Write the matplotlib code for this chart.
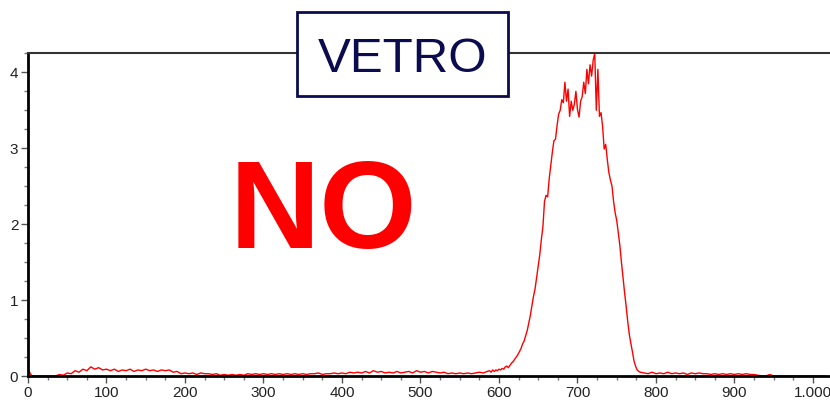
import numpy as np
import matplotlib
matplotlib.use("Agg")
import matplotlib.pyplot as plt
from matplotlib.patches import Rectangle
from matplotlib.ticker import MultipleLocator, FuncFormatter

plt.rcParams['font.family'] = ['Liberation Sans', 'DejaVu Sans']

# Spectrum intensity, sampled on three segments
left_step = 5
left_vals = [
    0.08, 0.0, 0.0, 0.0, 0.0, 0.0, 0.0, 0.0, 0.02, 0.01,
    0.04, 0.03, 0.07, 0.05, 0.09, 0.07, 0.12, 0.09, 0.11, 0.08,
    0.09, 0.07, 0.09, 0.06, 0.08, 0.07, 0.09, 0.06, 0.08, 0.07,
    0.09, 0.07, 0.08, 0.06, 0.08, 0.07, 0.08, 0.05, 0.06, 0.03,
    0.04, 0.03, 0.04, 0.02, 0.04, 0.03, 0.03, 0.02, 0.03, 0.01,
    0.02, 0.01, 0.02, 0.01, 0.02, 0.01, 0.03, 0.02, 0.03, 0.02,
    0.03, 0.02, 0.03, 0.02, 0.03, 0.02, 0.03, 0.02, 0.03, 0.02,
    0.03, 0.02, 0.03, 0.03, 0.04, 0.02, 0.03, 0.03, 0.04, 0.03,
    0.04, 0.03, 0.05, 0.04, 0.05, 0.04, 0.06, 0.04, 0.07, 0.05,
    0.06, 0.04, 0.05, 0.04, 0.06, 0.04, 0.05, 0.06, 0.04, 0.07,
    0.05, 0.06, 0.04, 0.06, 0.05, 0.04, 0.05, 0.03, 0.04, 0.03,
    0.04, 0.03, 0.04, 0.03, 0.04, 0.05, 0.04, 0.06,
]

peak_start = 588
peak_step = 2
peak_vals = [
    0.07, 0.05, 0.08, 0.06, 0.08, 0.07, 0.09, 0.08, 0.10, 0.09,
    0.12, 0.13, 0.11, 0.14, 0.17, 0.19, 0.22, 0.25, 0.28, 0.32,
    0.36, 0.42, 0.46, 0.53, 0.60, 0.70, 0.80, 0.93, 1.05, 1.15,
    1.30, 1.45, 1.60, 1.80, 1.97, 2.30, 2.38, 2.36, 2.60, 2.78,
    2.95, 3.10, 3.12, 3.30, 3.45, 3.50, 3.64, 3.60, 3.87, 3.62,
    3.78, 3.42, 3.62, 3.50, 3.58, 3.75, 3.51, 3.41, 3.62, 3.68,
    3.87, 3.72, 4.04, 3.85, 4.10, 3.95, 4.16, 4.25, 3.50, 4.04,
    3.42, 3.47, 3.29, 2.99, 3.05, 2.85, 2.68, 2.58, 2.50, 2.30,
    2.15, 2.05, 1.89, 1.72, 1.50, 1.30, 1.10, 0.92, 0.72, 0.55,
    0.43, 0.32, 0.20, 0.13, 0.08, 0.06, 0.05,
]

right_start = 785
right_step = 5
right_vals = [
    0.04, 0.03, 0.05, 0.03, 0.04, 0.03, 0.05, 0.03, 0.04, 0.03,
    0.04, 0.02, 0.04, 0.03, 0.04, 0.03, 0.03, 0.02, 0.03, 0.02,
    0.03, 0.02, 0.03, 0.02, 0.03, 0.02, 0.03, 0.02, 0.02, 0.01,
    0.0, 0.0, 0.02, 0.0, 0.0, 0.0, 0.0, 0.0, 0.0, 0.0,
    0.0, 0.0, 0.0, 0.0, 0.0, 0.0, 0.0,
]

x_left = left_step * np.arange(len(left_vals))
x_peak = peak_start + peak_step * np.arange(len(peak_vals))
x_right = right_start + right_step * np.arange(len(right_vals))

x = np.concatenate([x_left, x_peak, x_right])
y = np.concatenate([left_vals, peak_vals, right_vals])

fig = plt.figure(figsize=(8.3, 4.0), dpi=100)
ax = fig.add_axes([28 / 830, 24 / 400, 1 - 28 / 830, 323 / 400])

ax.plot(x, y, color='#ff0000', lw=1.0, zorder=2)

ax.set_xlim(0, 1021.7)
ax.set_ylim(0, 4.255)

ax.xaxis.set_major_locator(MultipleLocator(100))
ax.xaxis.set_minor_locator(MultipleLocator(25))
ax.yaxis.set_major_locator(MultipleLocator(1))
ax.yaxis.set_minor_locator(MultipleLocator(0.25))

def thousands(v, pos):
    return f"{int(v):,}".replace(",", ".")

ax.xaxis.set_major_formatter(FuncFormatter(thousands))

ax.tick_params(axis='both', which='major', direction='out', length=5,
               width=1, color='#555555', labelsize=11, labelcolor='#222222', pad=2)
ax.tick_params(axis='both', which='minor', direction='out', length=3,
               width=1, color='#777777')

for side in ('left', 'bottom'):
    ax.spines[side].set_linewidth(2.0)
    ax.spines[side].set_color('black')
ax.spines['top'].set_linewidth(1.5)
ax.spines['top'].set_color('#333333')
ax.spines['right'].set_visible(False)

# Title box overlapping the top frame
fig.patches.append(Rectangle((297 / 830, (400 - 96) / 400), 211 / 830, 84 / 400,
                             transform=fig.transFigure, facecolor='white',
                             edgecolor='#0b0b4f', linewidth=2.0, zorder=5))
fig.text(402.5 / 830, (400 - 72) / 400, 'VETRO', ha='center', va='baseline',
         fontsize=35.5, color='#0b0b4f', zorder=6)

fig.text(323.5 / 830, (400 - 248) / 400, 'NO', ha='center', va='baseline',
         fontsize=90, fontweight='bold', color='#ff0000', zorder=6)

fig.savefig('out.png', dpi=100)
